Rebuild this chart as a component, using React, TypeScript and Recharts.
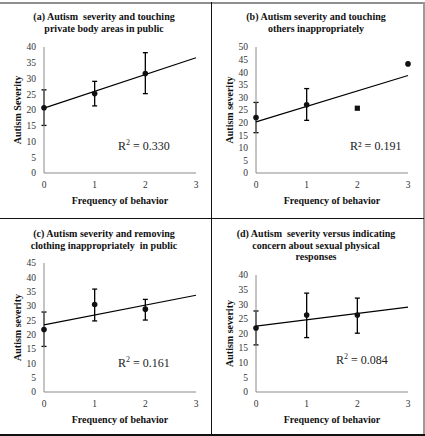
import React from 'react';
import { ScatterChart, Scatter, XAxis, YAxis, ErrorBar } from 'recharts';

// frequency of behavior (x categories)
const freqA = [0, 1, 2];
const freqB = [0, 1, 2, 3];
const freqC = [0, 1, 2];
const freqD = [0, 1, 2];

// mean autism severity per frequency
const severityA = [20.7, 25.2, 31.6];
const severityB = [22.0, 27.1, 25.7, 43.3];
const severityC = [21.8, 30.5, 28.9];
const severityD = [21.9, 26.3, 26.3];

// error bars [below, above]
const errA = [[5.6, 5.7], [3.9, 3.9], [6.4, 6.6]];
const errB = [[6.0, 6.0], [6.2, 6.4], null, null];
const errC = [[5.9, 6.1], [5.7, 5.4], [3.8, 3.4]];
const errD = [[5.8, 5.8], [7.7, 7.5], [6.2, 5.8]];

// linear trend line, value at x=0 and x=3
const trendX = [0, 3];
const trendA = [20.6, 36.6];
const trendB = [20.3, 38.7];
const trendC = [23.4, 33.75];
const trendD = [22.5, 29.0];

const xTicks = [0, 1, 2, 3];
const yTicks40 = [0, 5, 10, 15, 20, 25, 30, 35, 40];
const yTicks45 = [0, 5, 10, 15, 20, 25, 30, 35, 40, 45];
const yTicks50 = [0, 5, 10, 15, 20, 25, 30, 35, 40, 45, 50];

const SERIF = '"Liberation Serif", "Times New Roman", serif';

const build = (xs: number[], ys: number[], errs: (number[] | null)[]) =>
    xs.map((x, i) => ({ x, y: ys[i], err: errs[i] ?? undefined }));
const buildTrend = (ys: number[]) => trendX.map((x, i) => ({ x, y: ys[i] }));

interface PanelProps {
    left: number;
    top: number;
    title: string[];
    titleTop: number;
    yLabel: string;
    yMax: number;
    yTicks: number[];
    plotTop: number;
    points: { x: number; y: number; err?: number[] }[];
    trend: { x: number; y: number }[];
    r2: string;
    r2Sup: boolean;
    r2Pos: { left: number; top: number };
    squareAt?: number;
}

function Panel(p: PanelProps) {
    const W = 211;
    const H = 217;
    const plotBottom = 173;

    const yLabel = (props: any) => {
        const vb = props.viewBox;
        const cx = vb.x + 17;
        const cy = vb.y + vb.height / 2;
        return (
            <text
                x={cx}
                y={cy}
                transform={`rotate(-90 ${cx} ${cy})`}
                textAnchor="middle"
                dominantBaseline="central"
                fontFamily={SERIF}
                fontWeight="bold"
                fontSize={10}
                fill="#111"
            >
                {p.yLabel}
            </text>
        );
    };

    const xLabel = (props: any) => {
        const vb = props.viewBox;
        return (
            <text
                x={vb.x + vb.width / 2}
                y={vb.y + 27}
                textAnchor="middle"
                dominantBaseline="central"
                fontFamily={SERIF}
                fontWeight="bold"
                fontSize={10}
                fill="#111"
            >
                Frequency of behavior
            </text>
        );
    };

    const dot = (props: any) => {
        const { cx, cy, payload } = props;
        if (p.squareAt !== undefined && payload.x === p.squareAt) {
            return <rect x={cx - 2.6} y={cy - 2.6} width={5.2} height={5.2} fill="#111" />;
        }
        return <circle cx={cx} cy={cy} r={2.8} fill="#111" />;
    };

    return (
        <div style={{ position: 'absolute', left: p.left, top: p.top, width: W, height: H }}>
            <div
                style={{
                    position: 'absolute',
                    left: 0,
                    top: p.titleTop,
                    width: 208,
                    textAlign: 'center',
                    fontFamily: SERIF,
                    fontWeight: 'bold',
                    fontSize: 10,
                    lineHeight: '11.5px',
                    color: '#111',
                    whiteSpace: 'pre',
                }}
            >
                {p.title.map(line => (
                    <div key={line}>{line}</div>
                ))}
            </div>
            <ScatterChart
                width={W}
                height={H}
                margin={{ top: p.plotTop, right: 15, left: 0, bottom: H - plotBottom - 30 }}
            >
                <XAxis
                    type="number"
                    dataKey="x"
                    domain={[0, 3]}
                    ticks={xTicks}
                    tickLine={false}
                    axisLine={{ stroke: '#8a8a8a' }}
                    tick={{ fontFamily: SERIF, fontSize: 9.5, fill: '#333' }}
                    height={30}
                    label={{ content: xLabel }}
                />
                <YAxis
                    type="number"
                    dataKey="y"
                    domain={[0, p.yMax]}
                    ticks={p.yTicks}
                    interval={0}
                    tickLine={false}
                    axisLine={{ stroke: '#8a8a8a' }}
                    tick={{ fontFamily: SERIF, fontSize: 9.5, fill: '#333' }}
                    width={44}
                    label={{ content: yLabel }}
                />
                <Scatter
                    data={p.trend}
                    line={{ stroke: '#000', strokeWidth: 1.2 }}
                    shape={() => <g />}
                    isAnimationActive={false}
                />
                <Scatter data={p.points} shape={dot} isAnimationActive={false}>
                    <ErrorBar dataKey="err" direction="y" width={2.5} stroke="#000" strokeWidth={1.3} />
                </Scatter>
            </ScatterChart>
            <div
                style={{
                    position: 'absolute',
                    left: p.r2Pos.left,
                    top: p.r2Pos.top,
                    fontFamily: SERIF,
                    fontSize: 12,
                    lineHeight: '14px',
                    color: '#222',
                    whiteSpace: 'pre',
                }}
            >
                {p.r2Sup ? (
                    <>
                        R<sup style={{ fontSize: 8 }}>2</sup> = {p.r2}
                    </>
                ) : (
                    <>R² = {p.r2}</>
                )}
            </div>
        </div>
    );
}

export default function App() {
    return (
        <div
            style={{
                position: 'absolute',
                left: 0,
                top: 0,
                width: 425,
                height: 436,
                background: '#fff',
                overflow: 'hidden',
            }}
        >
            <Panel
                left={0}
                top={0}
                title={['(a) Autism  severity and touching', 'private body areas in public']}
                titleTop={11}
                yLabel="Autism Severity"
                yMax={40}
                yTicks={yTicks40}
                plotTop={47}
                points={build(freqA, severityA, errA)}
                trend={buildTrend(trendA)}
                r2="0.330"
                r2Sup
                r2Pos={{ left: 118, top: 136 }}
            />
            <Panel
                left={212}
                top={0}
                title={['(b) Autism severity and touching', 'others inappropriately']}
                titleTop={11}
                yLabel="Autism severity"
                yMax={50}
                yTicks={yTicks50}
                plotTop={47}
                points={build(freqB, severityB, errB)}
                trend={buildTrend(trendB)}
                r2="0.191"
                r2Sup={false}
                r2Pos={{ left: 138, top: 139 }}
                squareAt={2}
            />
            <Panel
                left={0}
                top={219}
                title={['(c) Autism severity and removing', 'clothing inappropriately  in public']}
                titleTop={9}
                yLabel="Autism severity"
                yMax={45}
                yTicks={yTicks45}
                plotTop={44}
                points={build(freqC, severityC, errC)}
                trend={buildTrend(trendC)}
                r2="0.161"
                r2Sup
                r2Pos={{ left: 118, top: 134 }}
            />
            <Panel
                left={212}
                top={219}
                title={[
                    '(d) Autism  severity versus indicating',
                    'concern about sexual physical',
                    'responses',
                ]}
                titleTop={9}
                yLabel="Autism severity"
                yMax={40}
                yTicks={yTicks40}
                plotTop={56}
                points={build(freqD, severityD, errD)}
                trend={buildTrend(trendD)}
                r2="0.084"
                r2Sup
                r2Pos={{ left: 124, top: 131 }}
            />
            {/* frame lines */}
            <div style={{ position: 'absolute', left: 0, top: 2, width: 425, height: 2, background: '#8f8f8f' }} />
            <div style={{ position: 'absolute', left: 423, top: 2, width: 2, height: 434, background: '#9a9a9a' }} />
            <div style={{ position: 'absolute', left: 0, top: 434, width: 425, height: 2, background: '#111' }} />
            <div style={{ position: 'absolute', left: 211, top: 2, width: 1, height: 434, background: '#111' }} />
            <div style={{ position: 'absolute', left: 0, top: 218, width: 424, height: 1, background: '#111' }} />
        </div>
    );
}
